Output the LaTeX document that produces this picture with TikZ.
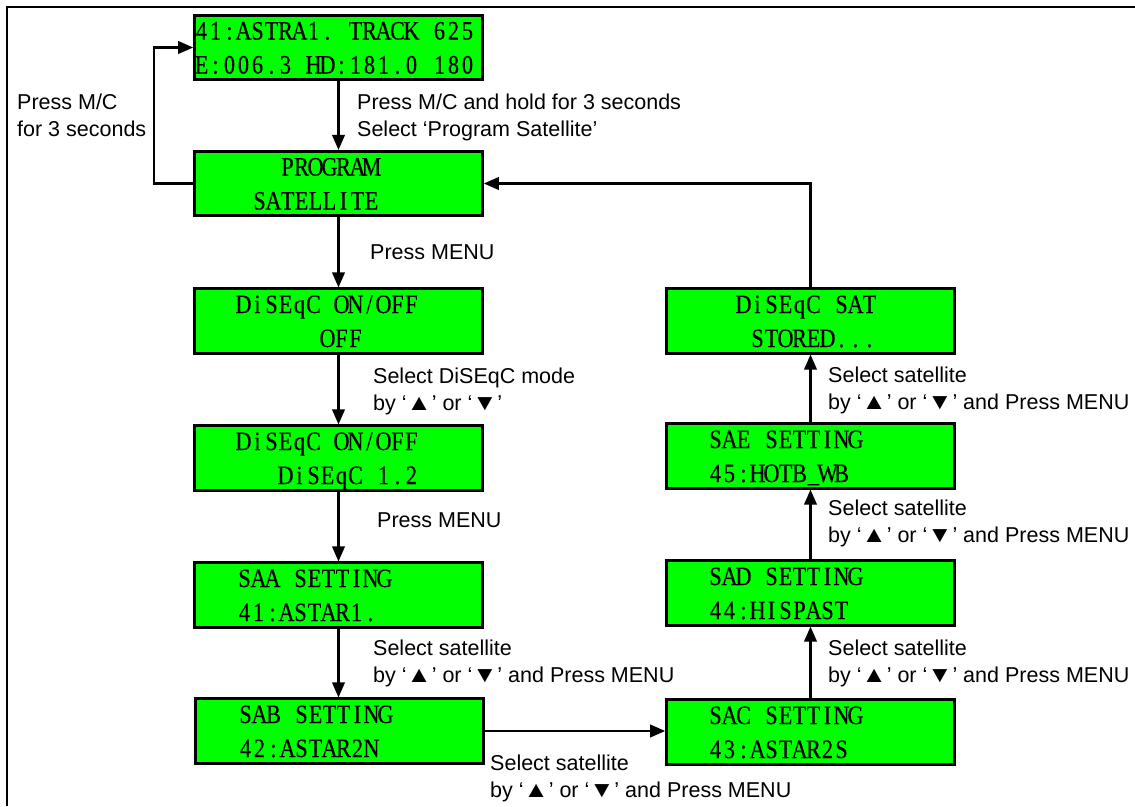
\documentclass[tikz,border=0pt]{standalone}
\usepackage{fontspec}
\usetikzlibrary{arrows.meta}
\newfontfamily\lcdfont[FakeStretch=0.84,FakeBold=0.4]{Liberation Serif}
\newfontfamily\lblfont{Liberation Sans}
\definecolor{lcdgreen}{RGB}{0,255,0}
\ExplSyntaxOn
\NewDocumentCommand\lcd{O{0}m}{\raisebox{0pt}[18pt][0pt]{\hspace*{\dimexpr 14pt * #1\relax}\str_map_inline:nn{#2}{\makebox[14pt][c]{##1}}}}
\ExplSyntaxOff
\newcommand\tup{\scalebox{1.18}[1.05]{▲}}
\newcommand\tdn{\scalebox{1.18}[1.05]{▼}}
\tikzset{
  lcdbox/.style={draw, line width=2.6pt, fill=lcdgreen, minimum width=288pt,
    minimum height=64.5pt, inner sep=0pt, text width=288pt, align=left,
    font=\lcdfont\fontsize{26.5}{34}\selectfont},
  lbl/.style={font=\lblfont\fontsize{21.5}{27}\selectfont, align=left,
    inner sep=0pt, anchor=north west},
  arr/.style={line width=2.2pt, -{Triangle[length=15pt,width=12.5pt]}}
}
\begin{document}
\begin{tikzpicture}[x=1pt,y=-1pt]
\useasboundingbox (0,0) rectangle (1135,806);
\draw[line width=2pt] (7,806) -- (7,7) -- (1135,7);
% boxes
\node[lcdbox] (top) at (338.5,47.5) {\lcd{41:ASTRA1. TRACK 625}\\\lcd{E:006.3 HD:181.0 180}};
\node[lcdbox] (prog) at (338.5,183.5) {\hspace*{58pt}\lcd[2]{PROGRAM}\\\hspace*{58pt}\lcd{SATELLITE}};
\node[lcdbox] (dis1) at (338.5,321) {\hspace*{42pt}\lcd{DiSEqC ON/OFF}\\\hspace*{42pt}\lcd[6]{OFF}};
\node[lcdbox] (dis2) at (338.5,458) {\hspace*{42pt}\lcd{DiSEqC ON/OFF}\\\hspace*{42pt}\lcd[3]{DiSEqC 1.2}};
\node[lcdbox] (saa) at (338.5,595) {\hspace*{43pt}\lcd{SAA SETTING}\\\hspace*{43pt}\lcd{41:ASTAR1.}};
\node[lcdbox] (sab) at (339.5,731) {\hspace*{43pt}\lcd{SAB SETTING}\\\hspace*{43pt}\lcd{42:ASTAR2N}};
\node[lcdbox] (sac) at (810.5,732) {\hspace*{42pt}\lcd{SAC SETTING}\\\hspace*{42pt}\lcd{43:ASTAR2S}};
\node[lcdbox] (sad) at (810.5,593) {\hspace*{42pt}\lcd{SAD SETTING}\\\hspace*{42pt}\lcd{44:HISPAST}};
\node[lcdbox] (sae) at (810.5,456) {\hspace*{42pt}\lcd{SAE SETTING}\\\hspace*{42pt}\lcd{45:HOTB_WB}};
\node[lcdbox] (sat) at (810.5,321) {\hspace*{42pt}\lcd[2]{DiSEqC SAT}\\\hspace*{42pt}\lcd[3]{STORED...}};
% connectors
\coordinate (lx) at (154,0);
\draw[arr] (top) -- (prog);
\draw[arr] (prog.west) -- (prog.west -| lx) |- (top.west);
\draw[arr] (prog) -- (dis1);
\draw[arr] (dis1) -- (dis2);
\draw[arr] (dis2) -- (saa);
\draw[arr] (saa) -- (saa.south |- sab.north);
\draw[arr] (sab.east) -- (sab.east -| sac.west);
\draw[arr] (sac) -- (sad);
\draw[arr] (sad) -- (sae);
\draw[arr] (sae) -- (sat);
\draw[arr] (sat.north) |- (prog.east);
% labels
\node[lbl] (l1) at (17,94) {Press M/C\\for 3 seconds};
\node[lbl] (l2) at (357,94) {Press M/C and hold for 3 seconds\\Select ‘Program Satellite’};
\node[lbl] (l3) at (370,245) {Press MENU};
\node[lbl] (l4) at (373,368) {Select DiSEqC mode\\by ‘\tup’ or ‘\tdn’};
\node[lbl] (l5) at (377,513) {Press MENU};
\node[lbl] (l6) at (373,640) {Select satellite\\by ‘\tup’ or ‘\tdn’ and Press MENU};
\node[lbl] (l7) at (490,755) {Select satellite\\by ‘\tup’ or ‘\tdn’ and Press MENU};
\node[lbl] (l8) at (828,640) {Select satellite\\by ‘\tup’ or ‘\tdn’ and Press MENU};
\node[lbl] (l9) at (828,500) {Select satellite\\by ‘\tup’ or ‘\tdn’ and Press MENU};
\node[lbl] (l10) at (828,367) {Select satellite\\by ‘\tup’ or ‘\tdn’ and Press MENU};
\end{tikzpicture}
\end{document}
